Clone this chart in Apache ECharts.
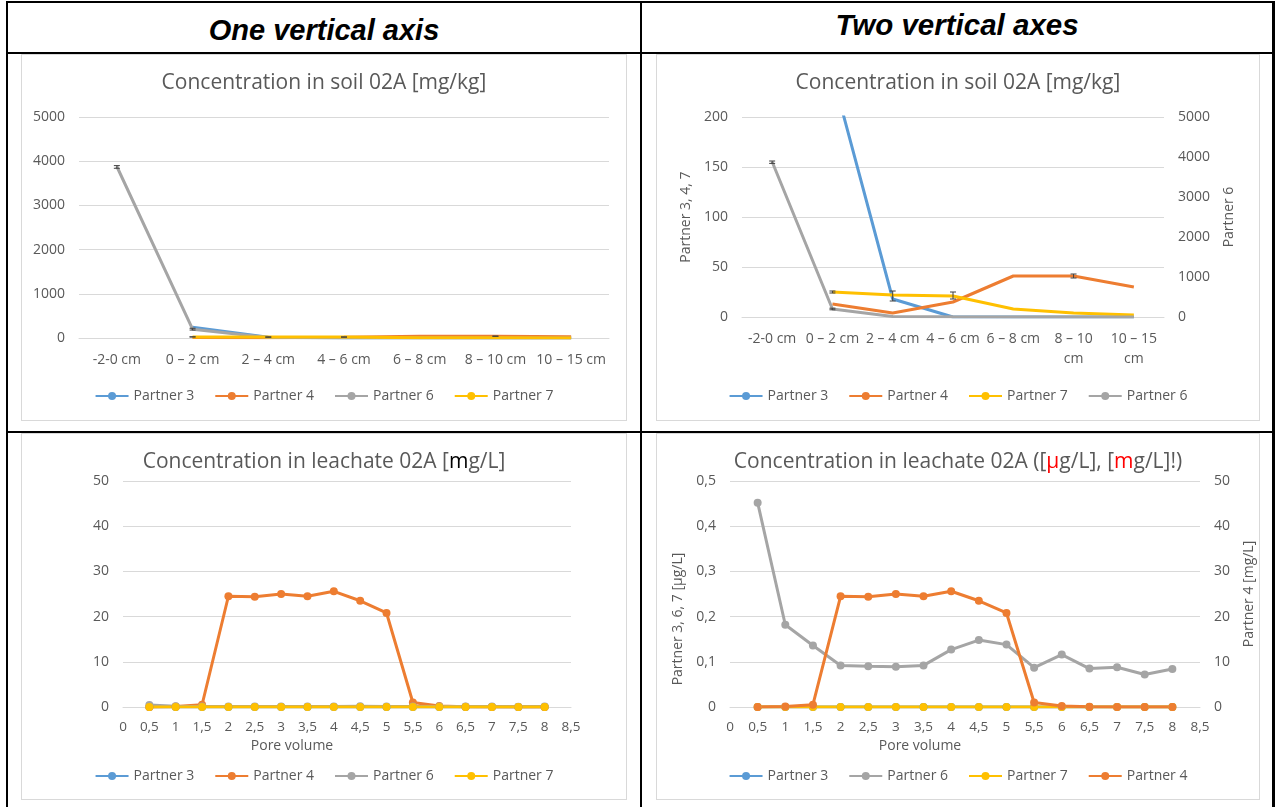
<!DOCTYPE html>
<html><head><meta charset="utf-8">
<script src="https://cdn.jsdelivr.net/npm/echarts@6/dist/echarts.min.js"></script>
<style>
body{margin:0;background:#fff;width:1276px;height:807px;overflow:hidden;position:relative}
.ln{position:absolute;background:#000}
.hd{position:absolute;font-family:"Liberation Sans",Arial,sans-serif;font-weight:bold;font-style:italic;font-size:29px;color:#000;text-align:center;line-height:32px}
.box{position:absolute;border:1px solid #d9d9d9;box-sizing:border-box}
.ch{position:absolute}
</style></head><body>
<div class="ln" style="left:6px;top:1px;width:1269px;height:2px"></div>
<div class="ln" style="left:6px;top:52px;width:1269px;height:2px"></div>
<div class="ln" style="left:6px;top:431px;width:1269px;height:2px"></div>
<div class="ln" style="left:6px;top:1px;width:2px;height:806px"></div>
<div class="ln" style="left:640px;top:1px;width:2px;height:806px"></div>
<div class="ln" style="left:1272px;top:1px;width:3px;height:806px"></div>
<div class="hd" style="left:8px;top:14px;width:632px">One vertical axis</div>
<div class="hd" style="left:642px;top:9px;width:630px;font-size:29.5px">Two vertical axes</div>

<div class="box" style="left:21px;top:54px;width:606px;height:367px"></div>
<div class="box" style="left:656px;top:54px;width:604px;height:367px"></div>
<div class="box" style="left:21px;top:433px;width:606px;height:367px"></div>
<div class="box" style="left:656px;top:433px;width:604px;height:367px"></div>
<div id="c1" class="ch" style="left:21px;top:54px;width:606px;height:367px"></div>
<div id="c2" class="ch" style="left:656px;top:54px;width:604px;height:367px"></div>
<div id="c3" class="ch" style="left:21px;top:433px;width:606px;height:367px"></div>
<div id="c4" class="ch" style="left:656px;top:433px;width:604px;height:367px"></div>
<script>
// ---- Soil data (mg/kg) ----
const soilCats = ['-2-0 cm', '0 – 2 cm', '2 – 4 cm', '4 – 6 cm', '6 – 8 cm', '8 – 10 cm', '10 – 15 cm'];
const soilP3 = [null, 243, 18, 0, 0, 0, 0];
const soilP4 = [null, 13, 4, 15, 41, 41, 30];
const soilP6 = [3880, 200, 10, 5, 3, 2, 2];
const soilP7 = [null, 25, 22, 21, 8, 4, 2];
// error bars: [category index, low, high]
const soilErrP3 = [[2, 16, 26]];
const soilErrP4 = [[5, 39, 43]];
const soilErrP6 = [[0, 3840, 3900], [1, 180, 220]];
const soilErrP7 = [[1, 24, 26], [3, 18, 25]];
const soilLeftTicks = {min: 0, max: 200, interval: 50};
const soilRightTicks = {min: 0, max: 5000, interval: 1000};

// ---- Leachate data ----
const poreVolume = [0.5, 1, 1.5, 2, 2.5, 3, 3.5, 4, 4.5, 5, 5.5, 6, 6.5, 7, 7.5, 8];
const leachP3 = [0, 0, 0, 0, 0, 0, 0, 0, 0, 0, 0, 0, 0, 0, 0, 0];
const leachP4 = [0, 0.1, 0.5, 24.5, 24.4, 25.0, 24.5, 25.6, 23.5, 20.8, 1.0, 0.2, 0.05, 0, 0, 0];
const leachP6 = [0.452, 0.182, 0.136, 0.092, 0.090, 0.089, 0.092, 0.127, 0.148, 0.138, 0.087, 0.116, 0.085, 0.088, 0.072, 0.084];
const leachP7 = [0, 0, 0, 0, 0, 0, 0, 0, 0, 0, 0, 0, 0, 0, 0, 0];

const COL = {p3: '#5B9BD5', p4: '#ED7D31', p6: '#A5A5A5', p7: '#FFC000'};
const TXT = '#595959', GRID = '#D9D9D9';
const FONT = '"Open Sans", Lato, sans-serif';
const lbl = {color: TXT, fontFamily: FONT, fontSize: 14};
const TS = 21;

function lineS(name, data, color, yIdx, sym) {
  return {type: 'line', name: name, data: data, yAxisIndex: yIdx || 0,
    symbol: sym ? 'circle' : 'none', symbolSize: 8, showSymbol: !!sym,
    lineStyle: {color: color, width: 3}, itemStyle: {color: color},
    connectNulls: false, animation: false};
}
function errS(data, yIdx) {
  return {type: 'custom', data: data, yAxisIndex: yIdx || 0, z: 5, silent: true, animation: false,
    encode: {x: 0, y: [1, 2]},
    renderItem: function (params, api) {
      const lo = api.coord([api.value(0), api.value(1)]);
      const hi = api.coord([api.value(0), api.value(2)]);
      const w = 3, st = {stroke: '#404040', lineWidth: 1};
      return {type: 'group', children: [
        {type: 'line', shape: {x1: lo[0], y1: lo[1], x2: hi[0], y2: hi[1]}, style: st},
        {type: 'line', shape: {x1: lo[0] - w, y1: lo[1], x2: lo[0] + w, y2: lo[1]}, style: st},
        {type: 'line', shape: {x1: hi[0] - w, y1: hi[1], x2: hi[0] + w, y2: hi[1]}, style: st}
      ]};
    }};
}
function pairs(arr) { return poreVolume.map(function (x, i) { return [x, arr[i]]; }); }
function titleOpt(text, rich) {
  return {text: text, left: 'center', top: 14,
    textStyle: {fontFamily: FONT, fontSize: TS, fontWeight: 'normal', color: TXT, rich: rich || {}}};
}
function legendOpt(names, top) {
  return {data: names, top: top, left: 'center', itemWidth: 33, itemHeight: 10, itemGap: 20,
    textStyle: {fontFamily: FONT, fontSize: 14, color: TXT}};
}
function gridOpt(l, r, t, b) {
  return {left: l, right: r, top: t, bottom: b, containLabel: false, outerBoundsMode: 'none'};
}
const catX = function (wrap) {
  return {type: 'category', data: soilCats, axisTick: {show: false},
    axisLine: {lineStyle: {color: GRID}},
    axisLabel: Object.assign({}, lbl, {margin: 12, interval: 0, lineHeight: 20,
      formatter: function (v) { return wrap && v.length > 8 ? v.replace(' cm', '\ncm') : v; }})};
};
const valX = {type: 'value', min: 0, max: 8.5, interval: 0.5, axisTick: {show: false},
  axisLine: {lineStyle: {color: GRID}}, splitLine: {show: false},
  axisLabel: Object.assign({}, lbl, {fontSize: 13.5, margin: 13, formatter: function (v) { return String(v).replace('.', ','); }})};
function valY(t, opts) {
  return Object.assign({type: 'value', min: t.min, max: t.max, interval: t.interval,
    axisLine: {show: false}, axisTick: {show: false},
    splitLine: {lineStyle: {color: GRID}},
    axisLabel: Object.assign({}, lbl, {margin: 14, formatter: function (v) { return String(v).replace('.', ','); }})}, opts || {});
}
const poreText = function (x) {
  return [{type: 'text', x: x, y: 313, style: {text: 'Pore volume', fill: TXT, font: '14px ' + FONT, align: 'center', verticalAlign: 'middle'}}];
};

// Chart 1
echarts.init(document.getElementById('c1')).setOption({
  animation: false,
  title: titleOpt('Concentration in soil 02A [mg/kg]'),
  legend: legendOpt(['Partner 3', 'Partner 4', 'Partner 6', 'Partner 7'], 330),
  grid: gridOpt(58, 18, 63, 83),
  xAxis: catX(false),
  yAxis: valY(soilRightTicks),
  series: [
    lineS('Partner 3', soilP3, COL.p3), lineS('Partner 4', soilP4, COL.p4),
    lineS('Partner 6', soilP6, COL.p6), lineS('Partner 7', soilP7, COL.p7),
    errS(soilErrP6), errS(soilErrP3), errS(soilErrP7), errS(soilErrP4)
  ]
});

// Chart 2
echarts.init(document.getElementById('c2')).setOption({
  animation: false,
  title: titleOpt('Concentration in soil 02A [mg/kg]'),
  legend: legendOpt(['Partner 3', 'Partner 4', 'Partner 7', 'Partner 6'], 330),
  grid: gridOpt(86, 96, 63, 104),
  xAxis: catX(true),
  yAxis: [
    valY(soilLeftTicks, {name: 'Partner 3, 4, 7', nameLocation: 'middle', nameRotate: 90, nameGap: 47, nameTextStyle: lbl}),
    valY(soilRightTicks, {position: 'right', splitLine: {show: false}, name: 'Partner 6', nameLocation: 'middle', nameRotate: 90, nameGap: 58, nameTextStyle: lbl})
  ],
  series: [
    lineS('Partner 3', soilP3, COL.p3), lineS('Partner 4', soilP4, COL.p4),
    lineS('Partner 7', soilP7, COL.p7), lineS('Partner 6', soilP6, COL.p6, 1),
    errS(soilErrP3), errS(soilErrP7), errS(soilErrP4), errS(soilErrP6, 1)
  ]
});

// Chart 3
echarts.init(document.getElementById('c3')).setOption({
  animation: false,
  title: titleOpt('Concentration in leachate 02A [{b|m}g/L]', {b: {color: '#000000', fontFamily: FONT, fontSize: TS}}),
  legend: legendOpt(['Partner 3', 'Partner 4', 'Partner 6', 'Partner 7'], 331),
  grid: gridOpt(102, 56, 48, 93),
  xAxis: valX,
  yAxis: valY({min: 0, max: 50, interval: 10}),
  graphic: poreText(271),
  series: [
    lineS('Partner 3', pairs(leachP3), COL.p3, 0, true), lineS('Partner 4', pairs(leachP4), COL.p4, 0, true),
    lineS('Partner 6', pairs(leachP6), COL.p6, 0, true), lineS('Partner 7', pairs(leachP7), COL.p7, 0, true)
  ]
});

// Chart 4
echarts.init(document.getElementById('c4')).setOption({
  animation: false,
  title: titleOpt('Concentration in leachate 02A ([{r|µ}g/L], [{r|m}g/L]!)', {r: {color: '#FF0000', fontFamily: FONT, fontSize: TS}}),
  legend: legendOpt(['Partner 3', 'Partner 6', 'Partner 7', 'Partner 4'], 331),
  grid: gridOpt(74, 60, 48, 93),
  xAxis: valX,
  yAxis: [
    valY({min: 0, max: 0.5, interval: 0.1}, {name: 'Partner 3, 6, 7 [µg/L]', nameLocation: 'middle', nameRotate: 90, nameGap: 45, nameTextStyle: Object.assign({}, lbl, {padding: [0, 50, 0, 0]})}),
    valY({min: 0, max: 50, interval: 10}, {position: 'right', splitLine: {show: false}, name: 'Partner 4 [mg/L]', nameLocation: 'middle', nameRotate: 90, nameGap: 42, nameTextStyle: lbl})
  ],
  graphic: poreText(264),
  series: [
    lineS('Partner 3', pairs(leachP3), COL.p3, 0, true), lineS('Partner 6', pairs(leachP6), COL.p6, 0, true),
    lineS('Partner 7', pairs(leachP7), COL.p7, 0, true), lineS('Partner 4', pairs(leachP4), COL.p4, 1, true)
  ]
});
</script>
</body></html>
